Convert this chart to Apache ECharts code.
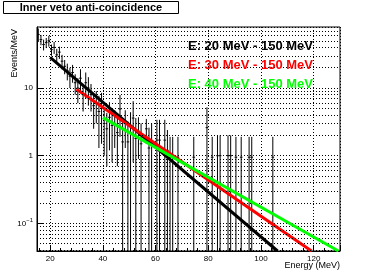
<!DOCTYPE html>
<html><head><meta charset="utf-8">
<script src="https://cdn.jsdelivr.net/npm/echarts@6/dist/echarts.min.js"></script>
<style>html,body{margin:0;padding:0;background:#fff}#c{width:378px;height:279px}</style>
</head><body><div id="c"></div>
<script>
// ---- data ----
const binE   = [15.5,16.5,17.5,18.5,19.5,20.5,21.5,22.5,23.5,24.5,25.5,26.5,27.5,28.5,29.5,30.5,31.5,32.5,33.5,34.5,35.5,36.5,37.5,38.5,39.5,40.5,41.5,42.5,43.5,44.5,45.5,46.5,47.5,48.5,49.5,50.5,51.5,52.5,53.5,54.5,56.5,57.5,58.5,60.5,61.5,63.5,64.5,65.5,66.5,68.5,74.5,79.5,81.5,83.5,84.5,87.5,88.5,90.5,92.5,95.5,96.5,104.5];
const binVal = [62,52,44,47,50,37,40,31,34,25,21,18,15,17,12,10,14,8,12,10,8,5.5,6,4.5,5,3,2.5,3.7,2.8,3,2.2,4.9,1.6,3,1.6,2.2,3.6,1.8,2.3,1.5,2.5,1.3,1.5,1.7,1.7,1.7,1.2,0.95,0.95,0.95,0.95,2.6,0.95,1.0,1.0,1.0,1.0,0.95,0.95,0.95,0.95,0.95];
const binErr = [14,9,8,8,9,7,8,7,7,6,5,5,5,5,4,4,5,3.5,5,4.5,3.5,3,3,3.2,3.5,2,1.8,2.5,2,1.7,1.5,3,1.6,1.7,1.6,2.2,2.8,1.8,1.4,1.5,1,1.3,1.5,1.7,1.7,1.7,1.2,0.95,0.95,0.95,0.95,2.6,0.95,1.0,1.0,1.0,1.0,0.95,0.95,0.95,0.95,0.95];

const fit20 = [[20, 28.4], [106.3, 0.039]];
const fit30 = [[30, 9.6], [119.2, 0.039]];
const fit40 = [[40, 3.66], [129.4, 0.039]];

const legendTexts  = ['E: 20 MeV - 150 MeV', 'E: 30 MeV - 150 MeV', 'E: 40 MeV - 150 MeV'];
const legendColors = ['#000000', '#ff0000', '#00ff00'];
const yMinorGrid = [0.04,0.05,0.06,0.07,0.08,0.09,0.2,0.3,0.4,0.5,0.6,0.7,0.8,0.9,2,3,4,5,6,7,8,9,20,30,40,50,60,70];
const titleText = 'Inner veto anti-coincidence';
const xTitle = 'Energy (MeV)';
const yTitle = 'Events/MeV';

const FONT = 'Liberation Sans, Arial, Helvetica, sans-serif';
const chart = echarts.init(document.getElementById('c'), null, {renderer: 'canvas'});

const dotted = {color: '#000', width: 1, type: [1, 2]};

chart.setOption({
  animation: false,
  backgroundColor: '#fff',
  grid: {left: 37, right: 38, top: 27, bottom: 28, show: true, borderColor: '#000', borderWidth: 1, backgroundColor: 'transparent'},
  xAxis: {
    type: 'value', min: 15, max: 130, splitNumber: 5,
    axisLine: {show: true, lineStyle: {color: '#000', width: 1}},
    axisTick: {show: true, inside: true, length: 6, lineStyle: {color: '#000'}},
    minorTick: {show: true, splitNumber: 5, length: 3, lineStyle: {color: '#000'}},
    axisLabel: {showMinLabel: false, showMaxLabel: false, fontSize: 8, color: '#000', fontFamily: FONT, margin: 4},
    splitLine: {show: true, lineStyle: dotted}
  },
  yAxis: {
    type: 'log', logBase: 10, min: 0.039, max: 80,
    axisLine: {show: true, lineStyle: {color: '#000', width: 1}},
    axisTick: {show: true, inside: true, length: 6, lineStyle: {color: '#000'}},
    axisLabel: {
      showMinLabel: false, showMaxLabel: false, fontSize: 8, color: '#000', fontFamily: FONT, margin: 4,
      formatter: function (v) {
        const ex = Math.round(Math.log10(v));
        if (ex < 0) return '{b|10}{s|' + '\u2212' + (-ex) + '}';
        return '{b|' + String(Math.round(Math.pow(10, ex))) + '}';
      },
      rich: {
        b: {fontSize: 8, fontFamily: FONT, color: '#000'},
        s: {fontSize: 6, fontFamily: FONT, color: '#000', padding: [0, 0, 6, 0]}
      }
    },
    splitLine: {show: true, lineStyle: dotted}
  },
  series: [
    {
      type: 'line', data: [], z: 1, silent: true,
      markLine: {
        silent: true, symbol: 'none', animation: false,
        label: {show: false},
        lineStyle: dotted,
        data: yMinorGrid.map(v => ({yAxis: v}))
      }
    },
    {
      type: 'custom', z: 2, clip: true, silent: true,
      data: binE.map((e, i) => [e, binVal[i], binErr[i]]),
      renderItem: function (params, api) {
        const e = api.value(0), v = api.value(1), er = api.value(2);
        const lo = Math.max(v - er, 0.001);
        const pTop = api.coord([e, v + er]);
        const pLo = api.coord([e, lo]);
        const pL = api.coord([e - 0.5, v]);
        const pR = api.coord([e + 0.5, v]);
        return {
          type: 'group',
          children: [
            {type: 'line', shape: {x1: pTop[0], y1: pTop[1], x2: pLo[0], y2: pLo[1]}, style: {stroke: '#000', lineWidth: 1}},
            {type: 'line', shape: {x1: pL[0], y1: pL[1], x2: pR[0], y2: pR[1]}, style: {stroke: '#000', lineWidth: 1}}
          ]
        };
      }
    },
    {type: 'line', data: fit20, z: 3, showSymbol: false, clip: true, lineStyle: {color: legendColors[0], width: 3}, silent: true},
    {type: 'line', data: fit30, z: 4, showSymbol: false, clip: true, lineStyle: {color: legendColors[1], width: 3}, silent: true},
    {type: 'line', data: fit40, z: 5, showSymbol: false, clip: true, lineStyle: {color: legendColors[2], width: 3}, silent: true}
  ],
  graphic: [
    {type: 'rect', shape: {x: 3.5, y: 1.5, width: 175, height: 12}, style: {fill: '#fff', stroke: '#000', lineWidth: 1}, z: 10},
    {type: 'text', x: 91, y: 8, style: {text: titleText, font: 'bold 11px ' + FONT, fill: '#000', align: 'center', verticalAlign: 'middle'}, z: 11},
    {type: 'text', x: 340, y: 266, style: {text: xTitle, font: '9px ' + FONT, fill: '#000', align: 'right', verticalAlign: 'middle'}, z: 11},
    {type: 'text', x: 15, y: 29, rotation: Math.PI / 2, style: {text: yTitle, font: '9px ' + FONT, fill: '#000', align: 'right', verticalAlign: 'middle'}, z: 11},
    ...legendTexts.map((t, i) => ({type: 'text', x: 188, y: 46 + i * 19, style: {text: t, font: 'bold 13px ' + FONT, fill: legendColors[i], align: 'left', verticalAlign: 'middle'}, z: 11}))
  ]
});
</script>
</body></html>
